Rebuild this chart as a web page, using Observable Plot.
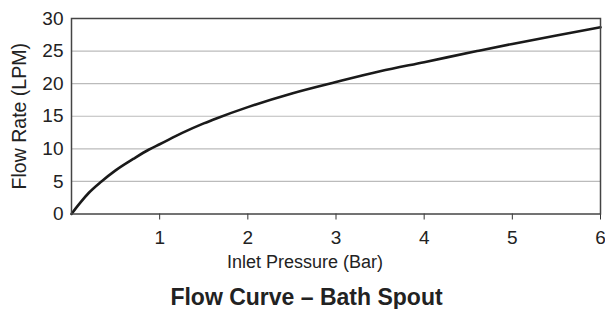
<!DOCTYPE html>
<html>
<head>
<meta charset="utf-8">
<script src="https://cdn.jsdelivr.net/npm/d3@7"></script>
<script src="https://cdn.jsdelivr.net/npm/@observablehq/plot@0.6"></script>
<style>
  html, body { margin: 0; padding: 0; background: #fff; }
  #wrap { width: 605px; font-family: "Liberation Sans", Arial, Helvetica, sans-serif; color: #222; }
  #title { width: 605px; text-align: center; font-weight: bold; font-size: 23px; line-height: 24px; margin-left: 4px; }
  svg { display: block; }
</style>
</head>
<body>
<div id="wrap"><div id="chart"></div><div id="title"></div></div>
<script>
const titleText = "Flow Curve – Bath Spout";
const xLabel = "Inlet Pressure (Bar)";
const yLabel = "Flow Rate (LPM)";
const pressure = [0, 0.05, 0.1, 0.2, 0.34, 0.5, 0.7, 0.88, 1, 1.25, 1.5, 1.65, 2, 2.5, 3, 3.5, 4, 4.6, 5, 5.5, 6];
const flow     = [0, 0.9, 1.75, 3.3, 5.0, 6.7, 8.45, 9.9, 10.7, 12.4, 13.9, 14.7, 16.4, 18.5, 20.25, 21.9, 23.3, 25.0, 26.1, 27.4, 28.65];
const xTicks = [1, 2, 3, 4, 5, 6];
const yTicks = [0, 5, 10, 15, 20, 25, 30];
const yGrid = [5, 10, 15, 20, 25];

const data = pressure.map((p, i) => ({p, f: flow[i]}));

const chart = Plot.plot({
  width: 605,
  height: 285,
  marginLeft: 71,
  marginRight: 5,
  marginTop: 18,
  marginBottom: 71.5,
  style: {fontFamily: "'Liberation Sans', Arial, Helvetica, sans-serif", fontSize: "19px", color: "#222", background: "#fff", overflow: "visible"},
  x: {domain: [0, 6]},
  y: {domain: [0, 30]},
  marks: [
    Plot.ruleY(yGrid, {stroke: "#bbb", strokeWidth: 1.2}),
    Plot.axisX({ticks: xTicks, tickFormat: d3.format("d"), tickSize: 6, tickPadding: 10, label: null, stroke: "#333", fontSize: 19}),
    Plot.axisY({ticks: yTicks, tickFormat: d3.format("d"), tickSize: 0, tickPadding: 8, label: null, fontSize: 19}),
    Plot.text([yLabel], {frameAnchor: "left", text: d => d, rotate: -90, textAnchor: "middle", dx: -52, fontSize: 19.5, fill: "#222"}),
    Plot.text([xLabel], {frameAnchor: "bottom", text: d => d, dx: -31, dy: 54, fontSize: 18, fill: "#222"}),
    Plot.line(data, {x: "p", y: "f", curve: "monotone-x", stroke: "#1a1a1a", strokeWidth: 2.6}),
    Plot.frame({stroke: "#444", strokeWidth: 1.5})
  ]
});
document.getElementById("chart").appendChild(chart);
document.getElementById("title").textContent = titleText;
</script>
</body>
</html>
